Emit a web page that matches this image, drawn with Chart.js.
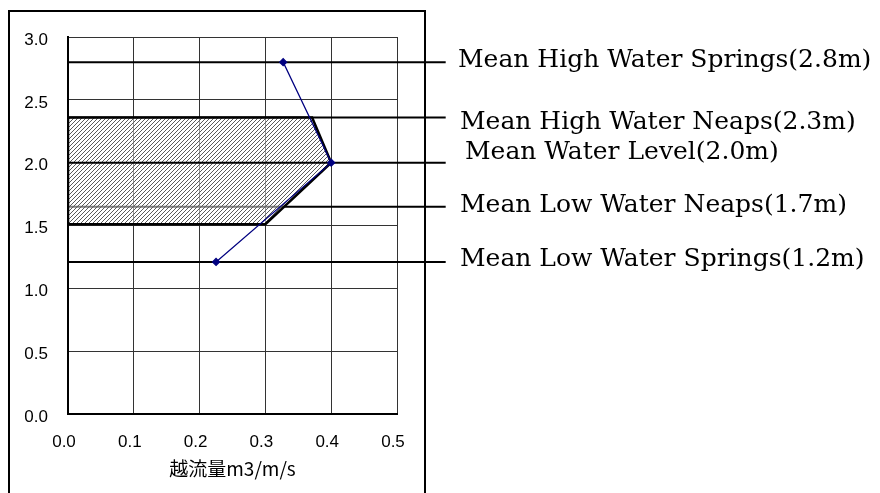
<!DOCTYPE html>
<html>
<head>
<meta charset="utf-8">
<script src="https://cdn.jsdelivr.net/npm/chart.js@4/dist/chart.umd.min.js"></script>
<style>
  html, body { margin: 0; padding: 0; background: #fff; }
</style>
</head>
<body>
<canvas id="tide-chart" width="880" height="493"></canvas>
<script>
// tide levels (m) and their names
const levelNames = [
  "Mean High Water Springs(2.8m)",
  "Mean High Water Neaps(2.3m)",
  "Mean Water Level(2.0m)",
  "Mean Low Water Neaps(1.7m)",
  "Mean Low Water Springs(1.2m)",
];
const levelValues = [2.8, 2.36, 2.0, 1.65, 1.21];
const levelLineEnd = 0.574; // x value where the level lines stop (right of plot)

// overtopping discharge (m3/m/s) at each level
const flowX = [0.327, 0.4, 0.225];
const flowY = [2.8, 2.0, 1.21];

// hatched zone outline
const zoneX = [0, 0.371, 0.4, 0.3, 0, 0];
const zoneY = [2.36, 2.36, 2.0, 1.51, 1.51, 2.36];

const xTicks = [0, 0.1, 0.2, 0.3, 0.4, 0.5];
const yTicks = [0, 0.5, 1.0, 1.5, 2.0, 2.5, 3.0];

// label layout (pixels)
const labelLeft = [458, 460, 465, 460, 460];
const labelNudge = [-2, 5, -10, -1, -2];

function hatchPattern() {
  const c = document.createElement("canvas");
  c.width = 4;
  c.height = 4;
  const g = c.getContext("2d");
  g.fillStyle = "rgba(255,255,255,0.5)";
  g.fillRect(0, 0, 4, 4);
  g.strokeStyle = "#5a5a5a";
  g.lineWidth = 1;
  g.beginPath();
  g.moveTo(0, 4); g.lineTo(4, 0);
  g.moveTo(-1, 1); g.lineTo(1, -1);
  g.moveTo(3, 5); g.lineTo(5, 3);
  g.stroke();
  return g.createPattern(c, "repeat");
}

function levelSet(i, order) {
  return {
    data: [{ x: 0, y: levelValues[i] }, { x: levelLineEnd, y: levelValues[i] }],
    showLine: true,
    borderColor: "#000",
    borderWidth: 2,
    pointRadius: 0,
    clip: false,
    order: order,
  };
}

const frame = {
  id: "frame",
  beforeDraw(chart) {
    const ctx = chart.ctx;
    ctx.save();
    ctx.fillStyle = "#fff";
    ctx.fillRect(0, 0, chart.width, chart.height);
    ctx.strokeStyle = "#000";
    ctx.lineWidth = 2;
    ctx.strokeRect(9, 11, 416, 500);
    ctx.restore();
  },
  afterDraw(chart) {
    const ctx = chart.ctx;
    const y = chart.scales.y;
    ctx.save();
    ctx.fillStyle = "#000";
    ctx.font = "25px 'DejaVu Serif'";
    ctx.textBaseline = "middle";
    ctx.textAlign = "left";
    levelNames.forEach((name, i) => {
      ctx.fillText(name, labelLeft[i], y.getPixelForValue(levelValues[i]) + labelNudge[i]);
    });
    ctx.restore();
  },
};

const ctx = document.getElementById("tide-chart").getContext("2d");

new Chart(ctx, {
  type: "scatter",
  data: {
    datasets: [
      {
        data: flowX.map((x, i) => ({ x: x, y: flowY[i] })),
        showLine: true,
        borderColor: "#000080",
        borderWidth: 1.2,
        pointStyle: "rectRot",
        pointRadius: 3.5,
        pointBackgroundColor: "#000080",
        pointBorderColor: "#000080",
        order: 0,
      },
      levelSet(2, 1),
      {
        data: zoneX.map((x, i) => ({ x: x, y: zoneY[i] })),
        showLine: true,
        fill: "shape",
        backgroundColor: hatchPattern(),
        borderColor: "#000",
        borderWidth: 2.5,
        pointRadius: 0,
        order: 2,
      },
      levelSet(0, 3),
      levelSet(1, 3),
      levelSet(3, 3),
      levelSet(4, 3),
    ],
  },
  options: {
    responsive: false,
    animation: false,
    layout: { padding: { top: 37, right: 483, bottom: 0, left: 0 } },
    plugins: { legend: { display: false }, tooltip: { enabled: false } },
    scales: {
      x: {
        type: "linear",
        min: 0,
        max: 0.5,
        afterBuildTicks: (s) => { s.ticks = xTicks.map((v) => ({ value: v })); },
        afterFit: (s) => { s.height = 79; },
        ticks: {
          callback: (v) => v.toFixed(1),
          padding: 18,
          labelOffset: -4,
          color: "#000",
          font: { family: "'Liberation Sans'", size: 17 },
        },
        grid: { color: "#333", lineWidth: 1, drawTicks: false },
        border: { color: "#000", width: 2 },
        title: {
          display: true,
          text: "越流量m3/m/s",
          color: "#000",
          font: { family: "'Noto Sans CJK JP'", size: 19 },
          padding: { top: 0, bottom: 13 },
        },
      },
      y: {
        type: "linear",
        min: 0,
        max: 3,
        afterBuildTicks: (s) => { s.ticks = yTicks.map((v) => ({ value: v })); },
        afterFit: (s) => { s.width = 68; },
        ticks: {
          callback: (v) => v.toFixed(1),
          padding: 20,
          labelOffset: 3,
          color: "#000",
          font: { family: "'Liberation Sans'", size: 17 },
        },
        grid: { color: "#333", lineWidth: 1, drawTicks: false },
        border: { color: "#000", width: 2 },
      },
    },
  },
  plugins: [frame],
});
</script>
</body>
</html>
